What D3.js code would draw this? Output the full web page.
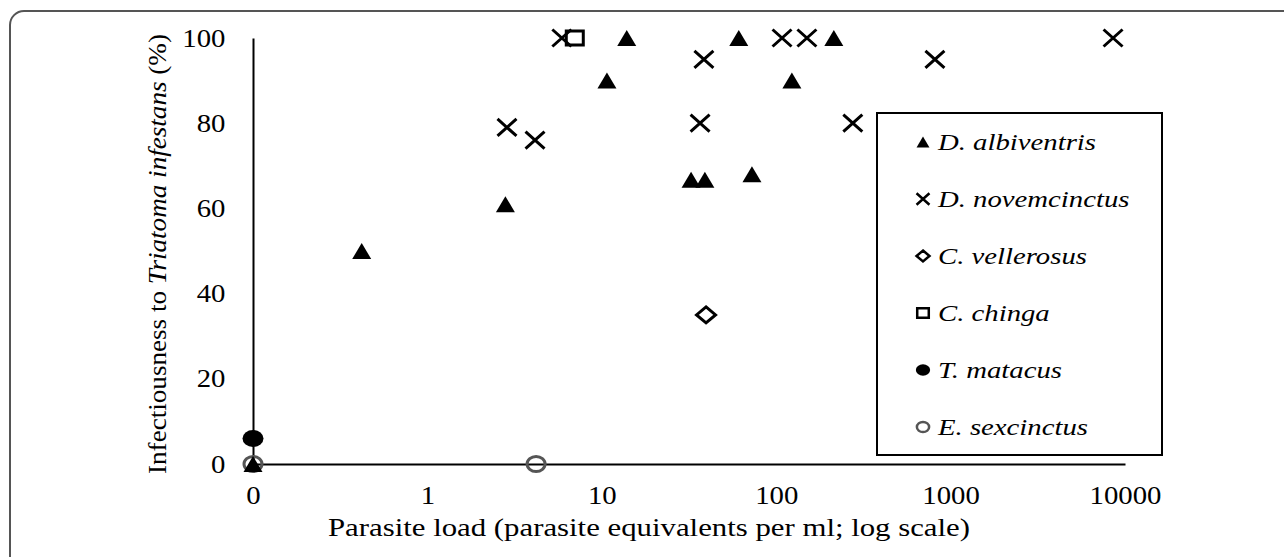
<!DOCTYPE html>
<html>
<head>
<meta charset="utf-8">
<script src="https://cdn.jsdelivr.net/npm/d3@7"></script>
<style>
  body { margin: 0; background: #fff; }
  svg { display: block; }
  text { font-family: "Liberation Serif", "Times New Roman", serif; fill: #000; }
</style>
</head>
<body>
<svg id="chart" width="1284" height="557"></svg>
<script>
// parasite load per ml (0 is drawn at the 0.1 position, labelled "0")
const albX = [0, 0.42, 2.8, 10.7, 13.9, 32.5, 39, 61, 72.6, 123, 214];
const albY = [0, 50, 61, 90, 100, 66.7, 66.7, 100, 68, 90, 100];
const novX = [2.86, 4.14, 5.9, 36.6, 38.5, 108, 150, 275, 813, 8540];
const novY = [79, 76, 100, 80, 95, 100, 100, 80, 95, 100];
const velX = [39.6];
const velY = [35];
const chiX = [7.0];
const chiY = [100];
const matX = [0];
const matY = [6];
const sexX = [0, 4.2];
const sexY = [0, 0];

const species = ['D. albiventris', 'D. novemcinctus', 'C. vellerosus', 'C. chinga', 'T. matacus', 'E. sexcinctus'];
const xTicks = [0.1, 1, 10, 100, 1000, 10000];
const xTickLabels = ['0', '1', '10', '100', '1000', '10000'];
const yTicks = [0, 20, 40, 60, 80, 100];

const svg = d3.select('#chart');
const stretch = 1.15; // the figure is a little wider than tall

const x = d3.scaleLog().domain([0.1, 10000]).range([253, 1125]);
const y = d3.scaleLinear().domain([0, 100]).range([464, 38]);
const px = v => x(v <= 0 ? 0.1 : v);

// outer rounded frame
svg.append('rect')
    .attr('x', 10).attr('y', 11)
    .attr('width', 1320).attr('height', 600)
    .attr('rx', 14)
    .attr('fill', 'none')
    .attr('stroke', '#555')
    .attr('stroke-width', 2);

function shape(type, w, h) {
    const a = w / 2, b = h / 2;
    if (type === 'tri') return `M0,${-b}L${a},${b}L${-a},${b}Z`;
    if (type === 'x') return `M${-a},${-b}L${a},${b}M${a},${-b}L${-a},${b}`;
    if (type === 'diamond') return `M0,${-b}L${a},0L0,${b}L${-a},0Z`;
    if (type === 'square') return `M${-a},${-b}H${a}V${b}H${-a}Z`;
    return `M${-a},0A${a},${b} 0 1,0 ${a},0A${a},${b} 0 1,0 ${-a},0Z`;
}

const series = [
    { xs: albX, ys: albY, type: 'tri', w: 19, h: 16, fill: '#000', stroke: 'none', sw: 0 },
    { xs: novX, ys: novY, type: 'x', w: 19, h: 17, fill: 'none', stroke: '#000', sw: 3 },
    { xs: velX, ys: velY, type: 'diamond', w: 19, h: 16, fill: '#fff', stroke: '#000', sw: 3 },
    { xs: chiX, ys: chiY, type: 'square', w: 17, h: 14, fill: 'none', stroke: '#000', sw: 3 },
    { xs: matX, ys: matY, type: 'circle', w: 21, h: 17, fill: '#000', stroke: 'none', sw: 0 },
    { xs: sexX, ys: sexY, type: 'circle', w: 18, h: 15, fill: 'none', stroke: '#555', sw: 3 }
];

// axes (lines only, no tick marks)
const xAxis = svg.append('g')
    .attr('transform', `translate(0,${y(0)})`)
    .call(d3.axisBottom(x).tickValues(xTicks).tickFormat((d, i) => xTickLabels[i]).tickSize(0).tickPadding(22));
const yAxis = svg.append('g')
    .attr('transform', `translate(${x(0.1)},0)`)
    .call(d3.axisLeft(y).tickValues(yTicks).tickSize(0).tickPadding(24));

[xAxis, yAxis].forEach(g => {
    g.select('.domain').attr('stroke', '#000').attr('stroke-width', 2);
    g.selectAll('.tick text')
        .style('font-family', '"Liberation Serif", serif')
        .style('font-size', '25px')
        .attr('fill', '#000')
        .attr('transform', `scale(${stretch},1)`);
});
xAxis.selectAll('.tick text').attr('dy', '0.71em');

// markers (drawn in order so triangles sit under the circles at the origin)
const drawOrder = [5, 4, 0, 1, 2, 3];
drawOrder.forEach(si => {
    const s = series[si];
    svg.append('g').selectAll('path')
        .data(s.xs.map((v, i) => [v, s.ys[i]]))
        .enter().append('path')
        .attr('d', shape(s.type, s.w, s.h))
        .attr('transform', d => `translate(${px(d[0])},${y(d[1])})`)
        .attr('fill', s.fill)
        .attr('stroke', s.stroke)
        .attr('stroke-width', s.sw);
});

// axis titles
svg.append('text')
    .attr('x', 328).attr('y', 536)
    .attr('textLength', 642)
    .attr('lengthAdjust', 'spacingAndGlyphs')
    .style('font-size', '25px')
    .text('Parasite load (parasite equivalents per ml; log scale)');

const yt = svg.append('text')
    .attr('transform', 'translate(166,474) rotate(-90)')
    .attr('textLength', 440)
    .attr('lengthAdjust', 'spacingAndGlyphs')
    .style('font-size', '25px');
yt.append('tspan').text('Infectiousness to ');
yt.append('tspan').style('font-style', 'italic').text('Triatoma infestans');
yt.append('tspan').text(' (%)');

// legend
const legend = svg.append('g').attr('transform', 'translate(877,113)');
legend.append('rect')
    .attr('width', 285).attr('height', 342)
    .attr('fill', '#fff')
    .attr('stroke', '#000')
    .attr('stroke-width', 2);

const row = legend.selectAll('g.item')
    .data(species)
    .enter().append('g')
    .attr('class', 'item')
    .attr('transform', (d, i) => `translate(0,${29 + i * 57})`);

row.append('path')
    .attr('transform', 'translate(46,0)')
    .attr('d', (d, i) => shape(series[i].type, series[i].w * 0.68, series[i].h * 0.68))
    .attr('fill', (d, i) => series[i].fill)
    .attr('stroke', (d, i) => series[i].stroke)
    .attr('stroke-width', (d, i) => series[i].sw ? 2.5 : 0);

row.append('text')
    .attr('transform', `translate(61,0) scale(${stretch + 0.1},1)`)
    .attr('dy', '0.35em')
    .style('font-size', '23px')
    .style('font-style', 'italic')
    .text(d => d);
</script>
</body>
</html>
